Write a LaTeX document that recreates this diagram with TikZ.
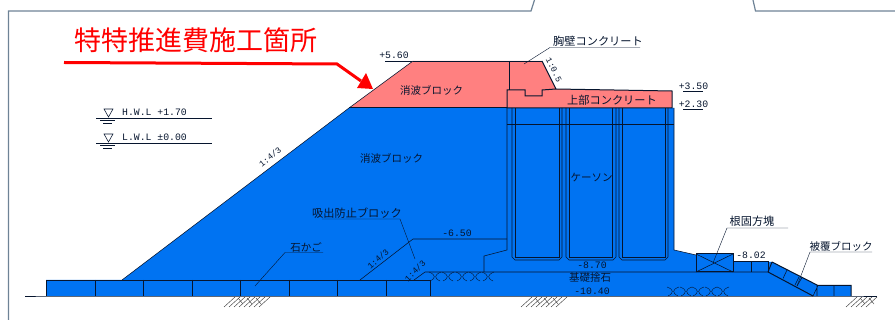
\documentclass[tikz,border=0pt]{standalone}
\usepackage{fontspec}
\setmainfont{Noto Sans CJK JP}
\newfontfamily\latinlbl{Liberation Mono}
\definecolor{seablue}{HTML}{0073F2}
\definecolor{blockpink}{HTML}{FF8080}
\definecolor{framegray}{HTML}{6E8396}
\definecolor{inkline}{HTML}{06152E}
\tikzset{
  jp/.style={inner sep=0pt,text=inkline,font=\fontsize{10.5}{12}\selectfont},
  jpwide/.style={jp,font=\fontsize{11.2}{13}\selectfont},
  num/.style={inner sep=0pt,text=inkline,font=\latinlbl\fontsize{9.8}{12}\selectfont},
  slopelbl/.style={num,font=\latinlbl\fontsize{8.5}{10}\selectfont},
  thin line/.style={draw=inkline,line width=0.55pt},
  edge line/.style={draw=inkline,line width=1pt},
  hair line/.style={draw=inkline,line width=0.4pt},
  hatch line/.style={draw=black!75,line width=0.45pt},
}
\begin{document}
\begin{tikzpicture}[x=1pt,y=-1pt]
\useasboundingbox (0,0) rectangle (895,320);
% frame
\draw[framegray,line width=1.2pt] (8.5,320) -- (8.5,11) -- (531,11) -- (534.5,0);
\draw[framegray,line width=1.2pt] (753,0) -- (755.5,11) -- (895,11);
% blue body
\fill[seablue] (46,280) -- (122,280) -- (349,108) -- (674,108) -- (674,250) -- (696,255)
  -- (696,254) -- (733,254) -- (733,262) -- (772,262) -- (818,285.5) -- (851,285.5) -- (851,296) -- (46,296) -- cycle;
% pink parts
\fill[blockpink] (349,108) -- (413,61) -- (542,61) -- (556,89) -- (672,91) -- (672,108) -- cycle;
\draw[hair line] (413,61) -- (542,61);
\draw[thin line] (413,61) -- (349,108);
\draw[edge line] (542,61) -- (556,89) -- (672,91) -- (672,108) -- (507,108) -- (507,90) -- (525,90) -- (525,96) -- (542,96) -- (542,90) -- (556,89);
\draw[thin line] (509,61) -- (509,90);
\draw[edge line] (349,108) -- (507,108);
% outline of the slope
\draw[thin line] (122,280) -- (349,108);
\draw[thin line] (46,296) -- (46,280);
% ground
\draw[thin line] (25,296) -- (46,296) -- (851,296) -- (877,296);
% mat
\draw[thin line] (122,280) -- (430,280) -- (430,296);
\draw[hair line] (46,280) -- (122,280);
\foreach \mx in {95,143,192,240,289,337,386} {\draw[thin line] (\mx,280) -- (\mx,296);}
% inner lines
\draw[thin line] (360,280) -- (413,239) -- (507,239);
\draw[thin line] (507,108) -- (507,250) -- (484,256) -- (484,272);
\draw[thin line] (414,280) -- (425,272) -- (768,272);
\draw[thin line] (674,108) -- (674,250) -- (696,255);
\draw[thin line] (507,124) -- (674,124);
% caisson cells
\foreach \a/\b/\c/\d in {512/515/559/562,566/569/612/616,619/622/665/668} {
  \draw[thin line] (\a,108) -- (\a,257) -- (\a+3,260) -- (\d-3,260) -- (\d,257) -- (\d,108);
  \draw[thin line] (\b,108) -- (\b,257) -- (\c,257) -- (\c,108);
}
% scallops
\foreach \sx in {435,448,462,475,488} {
  \draw[hair line] (\sx-6,272) .. controls (\sx+1,275) and (\sx+1,278) .. (\sx-5,281);
  \draw[hair line] (\sx+6,272) .. controls (\sx-1,275) and (\sx-1,278) .. (\sx+5,281);
}
\foreach \sx in {673,686,698,711,723} {
  \draw[hair line] (\sx-6,287) .. controls (\sx+1,289.5) and (\sx+1,293) .. (\sx-5,296);
  \draw[hair line] (\sx+6,287) .. controls (\sx-1,289.5) and (\sx-1,293) .. (\sx+5,296);
}
% blocks at the toe
\draw[edge line] (696,272) rectangle (733,254);
\draw[thin line] (696,272) -- (733,254) (696,254) -- (733,272);
\draw[edge line] (733,262) -- (768,262) -- (768,272) (751,262) -- (751,272);
\draw[edge line] (772,262) -- (818,285.5) -- (851,285.5) -- (851,296) (768,272) -- (813,296) (772,262) -- (768,272);
\draw[thin line] (787,270) -- (783,278.5) (802,277.5) -- (797,286) (799,277) -- (795,285) (818,285.5) -- (813,296) (817,285.5) -- (817,296) (834,285.5) -- (834,296);
% hatching
\foreach \hx in {224,229,234,239,244,249,254,259,521,526,531,536,541,546,551,556,846,851,856,861,866} {
  \draw[hatch line] (\hx,307) -- (\hx+11,297);
}
\foreach \hx in {238,247,256,535,544,553,860,869} {
  \draw[hatch line] (\hx,298) -- (\hx+5,304);
}
% water levels
\draw[thin line] (96,118) -- (212,118) (100,120.5) -- (115,120.5) (103,123) -- (112,123);
\draw[thin line] (104,109) -- (113,109) -- (108.5,117) -- cycle;
\draw[thin line] (96,143) -- (212,143) (100,145.5) -- (115,145.5) (103,148) -- (112,148);
\draw[thin line] (104,134) -- (113,134) -- (108.5,142) -- cycle;
\node[num] (hwl) at (154.5,112) {H.W.L +1.70};
\node[num] (lwl) at (154.5,137) {L.W.L ±0.00};
% red label and arrow
\node[inner sep=0pt,text=red,font=\fontsize{27}{30}\selectfont] (red) at (196,40) {特特推進費施工箇所};
\coordinate (rs) at (64,62.5);
\coordinate (rm) at (337,64);
\coordinate (rt) at (373,89);
\draw[red,line width=3pt] (rs) -- (rm) -- (361,81);
\fill[red] (rt) -- (357,88) -- (366,73) -- cycle;
% levels
\node[num] (l560) at (394,55) {+5.60};
\draw[hair line] (385,61) -- (412,61);
\node[num] (l350) at (693.5,86) {+3.50};
\draw[hair line] (683,91) -- (703,91);
\node[num] (l230) at (693.5,104) {+2.30};
\draw[hair line] (683,109) -- (703,109);
\node[num] (l650) at (457,233) {-6.50};
\node[num] (l870) at (592,265) {-8.70};
\node[num] (l1040) at (592,291) {-10.40};
\node[num] (l802) at (751,255) {-8.02};
% slopes
\node[slopelbl,rotate=38] (s1) at (270,157) {1:4/3};
\node[slopelbl,rotate=42] (s2) at (378,259) {1:4/3};
\node[slopelbl,rotate=45] (s3) at (415,271) {1:4/3};
\node[slopelbl,rotate=-63] (s4) at (554,70) {1:0.5};
% labels
\node[jp] (n1) at (431.5,90) {消波ブロック};
\node[jp] (n2) at (391.5,158) {消波ブロック};
\node[jpwide] (n3) at (598,41) {胸壁コンクリート};
\coordinate (n3a) at (550,47.5);
\coordinate (n3b) at (640,47.5);
\coordinate (n3c) at (524,64);
\draw[hair line] (n3b) -- (n3a) -- (n3c);
\node[jpwide] (n4) at (612,100) {上部コンクリート};
\node[jp] (n5) at (591.5,178) {ケーソン};
\node[jpwide] (n6) at (357,213) {吸出防止ブロック};
\coordinate (n6a) at (400,219);
\coordinate (n6b) at (322,219);
\coordinate (n6c) at (415,259);
\draw[hair line] (n6b) -- (n6a) -- (n6c);
\node[jp] (n7) at (306,247) {石かご};
\coordinate (n7a) at (285,252.5);
\coordinate (n7b) at (323,252.5);
\coordinate (n7c) at (255,286);
\draw[hair line] (n7b) -- (n7a) -- (n7c);
\node[jp] (n8) at (590,278) {基礎捨石};
\node[jpwide] (n9) at (752,221) {根固方塊};
\coordinate (n9a) at (727,228);
\coordinate (n9b) at (788,228);
\coordinate (n9c) at (713,263);
\draw[hair line] (n9b) -- (n9a) -- (n9c);
\node[jp] (n10) at (841,246) {被覆ブロック};
\coordinate (n10a) at (810,252);
\coordinate (n10b) at (872,252);
\coordinate (n10c) at (797,286);
\draw[hair line] (n10b) -- (n10a) -- (n10c);
\end{tikzpicture}
\end{document}
